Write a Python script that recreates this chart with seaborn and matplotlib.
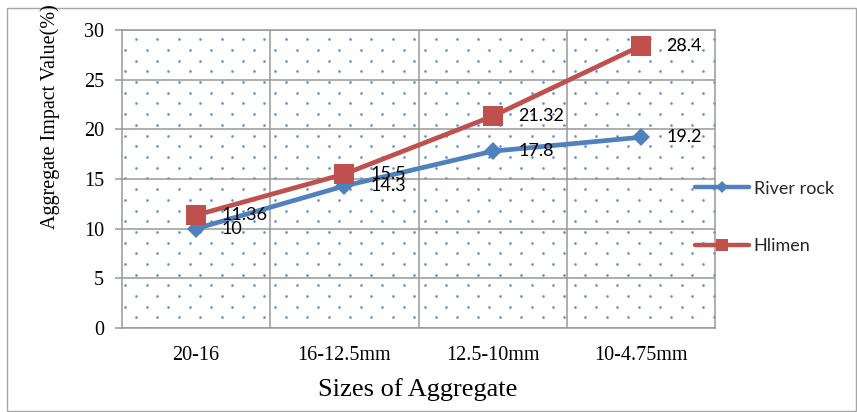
import numpy as np
import pandas as pd
import matplotlib
matplotlib.use("Agg")
import matplotlib.pyplot as plt
from matplotlib.lines import Line2D
from matplotlib.patches import Rectangle
import seaborn as sns

# Aggregate impact value by aggregate size fraction
sizes = ["20-16", "16-12.5mm", "12.5-10mm", "10-4.75mm"]
river_rock = [10, 14.3, 17.8, 19.2]
hlimen = [11.36, 15.5, 21.32, 28.4]
series_names = ["River rock", "Hlimen"]
y_ticks = [0, 5, 10, 15, 20, 25, 30]

sns.set_theme(style="white")
plt.rcParams["font.family"] = ["Liberation Serif", "DejaVu Serif"]

W, H, DPI = 857, 412, 100
fig = plt.figure(figsize=(W / DPI, H / DPI), dpi=DPI)

# plot area in pixels
px0, py0, pw, ph = 122, 30, 593, 298
ax = fig.add_axes([px0 / W, 1 - (py0 + ph) / H, pw / W, ph / H])
ax.set_facecolor("white")

grey = "#989898"

# dotted fill of the plot area
dx, dy = 21.4, 10.7
pts_x, pts_y = [], []
row = 0
yy = 9.3
while yy < ph:
    start = 14.0 if row % 2 == 0 else 3.3
    xx = start
    while xx < pw:
        pts_x.append(xx / pw)
        pts_y.append(1 - yy / ph)
        xx += dx
    yy += dy
    row += 1
ax.scatter(pts_x, pts_y, s=3.6, color="#5d8fd4", linewidths=0,
           transform=ax.transAxes, zorder=0.5, clip_on=True)

df = pd.DataFrame({
    "size": sizes * 2,
    "value": river_rock + hlimen,
    "series": [series_names[0]] * len(sizes) + [series_names[1]] * len(sizes),
})

styles = {
    "River rock": dict(color="#4F81BD", marker="D", ms=9.2),
    "Hlimen": dict(color="#C0504D", marker="s", ms=14.2),
}

for name in series_names:
    sub = df[df["series"] == name]
    st = styles[name]
    sns.lineplot(data=sub, x="size", y="value", ax=ax, color=st["color"],
                 marker=st["marker"], markersize=st["ms"], markeredgewidth=0,
                 linewidth=3.4, sort=False, legend=False, zorder=3,
                 solid_capstyle="round")
    for xi, v in zip(range(len(sizes)), sub["value"]):
        ax.annotate(f"{v:g}", xy=(xi, v), xytext=(18.5, 0),
                    textcoords="offset points", ha="left", va="center",
                    fontsize=13, family=["Lato", "DejaVu Sans"], color="black",
                    zorder=4)

ax.set_xlim(-0.5, len(sizes) - 0.5)
ax.set_ylim(0, 30)
ax.set_yticks(y_ticks)
ax.set_yticklabels([str(t) for t in y_ticks], fontsize=14.5)
ax.set_xticks(range(len(sizes)))
ax.set_xticklabels(sizes, fontsize=14.5)
ax.set_xticks(np.arange(0.5, len(sizes) - 0.5, 1), minor=True)

ax.grid(False)
ax.grid(True, axis="y", which="major", color=grey, linewidth=1.1, zorder=1)
ax.grid(True, axis="x", which="minor", color=grey, linewidth=1.1, zorder=1)
ax.set_axisbelow(True)
for sp in ax.spines.values():
    sp.set_visible(True)
    sp.set_color(grey)
    sp.set_linewidth(1.1)

ax.tick_params(axis="y", which="major", length=5, width=1.1, color=grey,
               pad=8, left=True, labelcolor="black")
ax.tick_params(axis="x", which="both", length=0, pad=13, labelcolor="black")

ax.set_xlabel("")
ax.set_ylabel("")
fig.text(418 / W, 1 - 390 / H, "Sizes of Aggregate", ha="center", va="center",
         fontsize=19, color="black")
fig.text(50 / W, 1 - 117 / H, "Aggregate Impact Value(%)", ha="center",
         va="center", rotation=90, fontsize=14.5, color="black")

# legend
handles = [
    Line2D([], [], color="#4F81BD", marker="D", ms=6.5, mew=0, lw=3.2,
           solid_capstyle="round"),
    Line2D([], [], color="#C0504D", marker="s", ms=9, mew=0, lw=3.2,
           solid_capstyle="round"),
]
leg = ax.legend(handles, series_names, loc="center left",
                bbox_to_anchor=(695 / W, 1 - 217.5 / H),
                bbox_transform=fig.transFigure, frameon=False,
                prop={"family": ["Lato", "DejaVu Sans"], "size": 13},
                handlelength=3.0, handletextpad=0.25, labelspacing=2.3,
                borderpad=0, borderaxespad=0)
leg.set_zorder(5)

# outer chart border
fig.patches.append(Rectangle((7.5 / W, 1.5 / H), (855.5 - 7.5) / W,
                             (404.5 - 1.5) / H, transform=fig.transFigure,
                             fill=False, edgecolor="#a6a6a6", linewidth=1.0))

fig.savefig("out.png", dpi=DPI)
